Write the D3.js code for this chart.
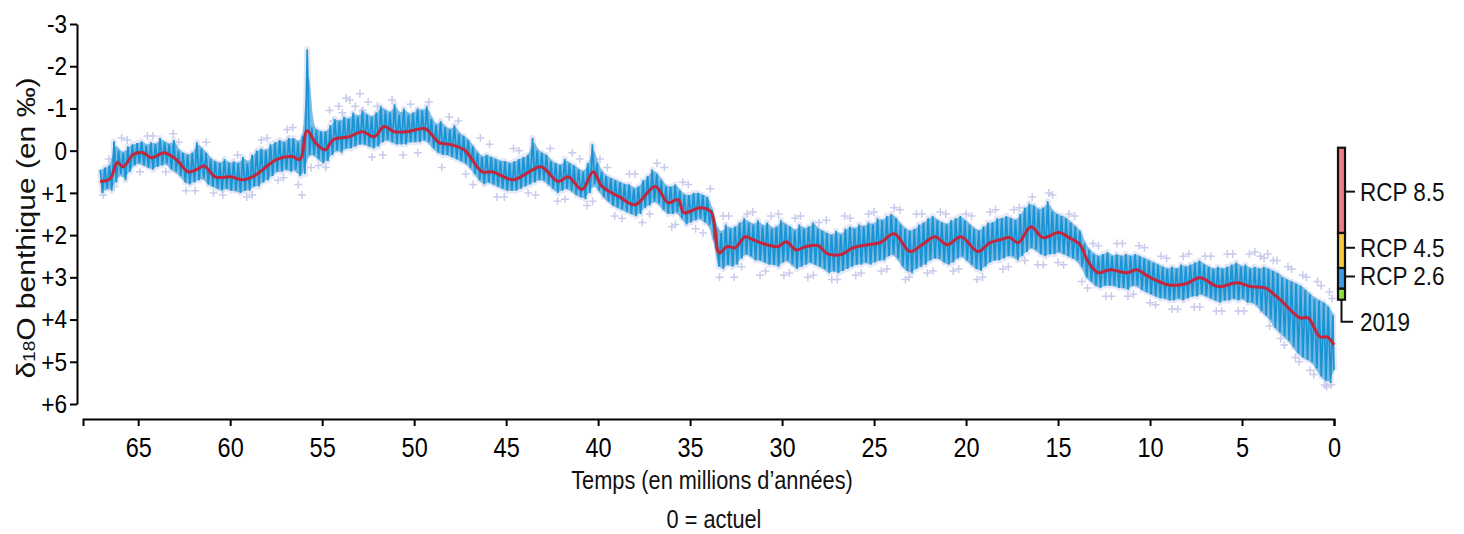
<!DOCTYPE html>
<html>
<head>
<meta charset="utf-8">
<script src="https://cdn.jsdelivr.net/npm/d3@7"></script>
<style>
  body { margin: 0; background: #fff; }
  text { font-family: "Liberation Sans", Arial, Helvetica, sans-serif; }
</style>
</head>
<body>
<div id="chart"></div>
<script>
// benthic d18O record, values in per mil, age in Myr (0 = today)
// blue trace: upper / lower excursion read every 0.25 Myr from 67 Myr down to 0
const blueStart = 67, blueStep = 0.25;
const blueHigh = [
  0.45, 0.4, 0.35, -0.22,   0.0, 0.05, -0.1, -0.15,   -0.18, -0.22, -0.12, -0.2,
  -0.15, -0.3, -0.2, -0.15,   -0.25, 0.0, 0.05, 0.1,   0.05, -0.2, -0.05, 0.05,
  0.2, 0.25, 0.3, 0.2,   0.3, 0.25, 0.3, 0.15,   0.3, 0.1, 0.0, -0.05,
  0.0, -0.15, -0.2, -0.25,   -0.2, -0.3, -0.3, -0.2,   -0.35, -2.4, -0.55, -0.5,
  -0.45, -0.45, -0.6, -0.75,   -0.7, -0.8, -0.75, -0.9,   -0.8, -0.95, -0.85, -0.8,
  -0.9, -1.05, -0.95, -0.9,   -1.1, -0.85, -1.0, -0.85,   -0.9, -1.0, -0.95, -1.05,
  -0.75, -0.6, -0.7, -0.55,   -0.5, -0.6, -0.4, -0.35,   -0.25, -0.1, 0.05, 0.15,
  0.1, 0.15, 0.2, 0.25,   0.25, 0.3, 0.25, 0.2,   0.15, 0.1, -0.3, 0.0,
  0.05, 0.1, 0.25, 0.3,   0.35, 0.2, 0.3, 0.35,   0.45, 0.5, 0.3, -0.15,
  0.3, 0.5, 0.6, 0.65,   0.7, 0.75, 0.8, 0.8,   0.9, 0.85, 0.7, 0.6,
  0.45, 0.55, 0.7, 0.85,   0.85, 0.8, 0.95, 1.05,   1.05, 1.0, 1.0, 1.05,
  1.1, 1.4, 1.85, 1.95,   1.75, 1.85, 1.8, 1.7,   1.6, 1.7, 1.75, 1.65,
  1.8, 1.7, 1.85, 1.8,   1.65, 1.75, 1.8, 1.9,   1.75, 1.85, 1.8, 1.7,
  1.85, 1.9, 1.95, 2.0,   1.9, 2.0, 1.85, 1.8,   1.85, 1.75, 1.8, 1.7,
  1.75, 1.6, 1.65, 1.55,   1.5, 1.6, 1.75, 1.85,   1.9, 1.85, 1.75, 1.7,
  1.6, 1.55, 1.65, 1.7,   1.75, 1.65, 1.6, 1.55,   1.65, 1.75, 1.85, 1.9,
  1.8, 1.7, 1.7, 1.6,   1.6, 1.55, 1.6, 1.65,   1.5, 1.35, 1.25, 1.3,
  1.4, 1.35, 1.2, 1.45,   1.5, 1.55, 1.6, 1.7,   1.8, 1.9, 2.2, 2.35,
  2.45, 2.5, 2.45, 2.4,   2.5, 2.45, 2.5, 2.45,   2.5, 2.45, 2.5, 2.55,
  2.6, 2.65, 2.7, 2.75,   2.8, 2.75, 2.8, 2.7,   2.75, 2.7, 2.65, 2.6,
  2.7, 2.75, 2.8, 2.75,   2.8, 2.75, 2.7, 2.65,   2.75, 2.7, 2.8, 2.75,
  2.8, 2.75, 2.8, 2.85,   2.9, 3.0, 3.05, 3.1,   3.15, 3.2, 3.3, 3.4,
  3.5, 3.55, 3.6, 3.7,   3.9
];
const blueLow = [
  1.0, 0.9, 0.95, 0.75,   0.55, 0.7, 0.5, 0.35,   0.3, 0.35, 0.4, 0.45,
  0.38, 0.35, 0.3, 0.45,   0.5, 0.6, 0.75, 0.8,   0.75, 0.7, 0.65, 0.8,
  0.85, 0.9, 0.95, 0.9,   0.95, 0.95, 1.0, 0.95,   0.95, 0.85, 0.85, 0.75,
  0.7, 0.6, 0.5, 0.5,   0.45, 0.5, 0.45, 0.6,   0.55, 0.1, 0.1, 0.2,
  0.3, 0.25, 0.1, 0.0,   0.05, -0.05, -0.05, -0.1,   -0.15, -0.15, -0.1, -0.05,
  -0.1, -0.2, -0.25, -0.2,   -0.15, -0.15, -0.15, -0.2,   -0.2, -0.2, -0.25, -0.2,
  -0.05, 0.05, 0.1, 0.1,   0.15, 0.2, 0.25, 0.3,   0.4, 0.55, 0.7, 0.8,
  0.75, 0.8, 0.85, 0.9,   0.95, 0.95, 0.95, 0.9,   0.85, 0.8, 0.75, 0.7,
  0.7, 0.8, 0.9, 1.0,   0.95, 0.9, 0.95, 1.05,   1.1, 1.15, 1.0, 0.8,
  0.95, 1.1, 1.2, 1.3,   1.35, 1.4, 1.45, 1.5,   1.55, 1.5, 1.35, 1.3,
  1.2, 1.25, 1.4, 1.5,   1.5, 1.45, 1.6, 1.75,   1.7, 1.65, 1.6, 1.7,
  1.75, 2.1, 2.75, 2.8,   2.7, 2.75, 2.7, 2.55,   2.45, 2.5, 2.6, 2.6,
  2.65, 2.7, 2.7, 2.75,   2.65, 2.6, 2.7, 2.8,   2.75, 2.7, 2.65, 2.7,
  2.75, 2.8, 2.9, 2.85,   2.9, 2.85, 2.8, 2.75,   2.7, 2.7, 2.65, 2.7,
  2.65, 2.6, 2.6, 2.5,   2.45, 2.55, 2.75, 2.85,   2.9, 2.8, 2.75, 2.7,
  2.6, 2.55, 2.55, 2.65,   2.7, 2.65, 2.55, 2.5,   2.6, 2.7, 2.8, 2.85,
  2.75, 2.65, 2.6, 2.6,   2.55, 2.5, 2.5, 2.6,   2.5, 2.4, 2.3, 2.35,
  2.45, 2.5, 2.45, 2.45,   2.4, 2.45, 2.5, 2.55,   2.6, 2.75, 3.0, 3.1,
  3.2, 3.25, 3.2, 3.2,   3.2, 3.25, 3.25, 3.3,   3.2, 3.2, 3.3, 3.35,
  3.4, 3.45, 3.5, 3.5,   3.55, 3.55, 3.5, 3.55,   3.5, 3.45, 3.45, 3.4,
  3.45, 3.5, 3.55, 3.6,   3.55, 3.55, 3.5, 3.55,   3.5, 3.6, 3.6, 3.65,
  3.8, 3.9, 4.0, 4.2,   4.3, 4.4, 4.5, 4.65,   4.8, 4.9, 4.95, 5.0,
  5.15, 5.35, 5.45, 5.5,   5.2
];

// red smoothed curve
const redAge = [67.07, 66.52, 66.14, 65.82, 65.27, 64.73, 64.29, 63.59, 62.93, 62.28,
  61.74, 61.41, 60.82, 59.95, 59.29, 58.59, 58.04, 57.5, 56.63, 56.2,
  55.82, 55.33, 54.84, 54.4, 53.53, 52.83, 52.17, 51.63, 51.09, 50.38,
  49.4, 48.64, 47.99, 47.28, 46.3, 45.76, 44.62, 43.75, 43.1, 42.17,
  41.63, 40.87, 40.27, 39.78, 38.86, 37.99, 36.9, 36.2, 35.65, 35.33,
  34.46, 33.86, 33.42, 32.99, 32.55, 32.01, 31.58, 30.82, 30.22, 29.78,
  29.24, 28.7, 28.04, 27.55, 26.79, 26.14, 25.38, 24.67, 23.91, 23.04,
  22.39, 21.68, 21.03, 20.27, 19.35, 18.7, 18.15, 17.61, 17.17, 16.47,
  15.82, 14.95, 14.4, 13.8, 13.4, 12.83, 12.17, 11.25, 10.71, 10.05,
  8.97, 8.04, 7.28, 6.3, 5.27, 4.51, 3.75, 2.93, 1.85, 1.41,
  0.76, 0.38, 0];
const redVal = [0.73, 0.66, 0.28, 0.38, 0.09, 0.05, 0.17, 0.05, 0.21, 0.5,
  0.43, 0.36, 0.62, 0.62, 0.69, 0.57, 0.38, 0.21, 0.14, 0.21,
  -0.47, -0.17, -0.02, -0.26, -0.33, -0.45, -0.33, -0.57, -0.45, -0.45,
  -0.52, -0.19, -0.14, -0.02, 0.5, 0.5, 0.69, 0.5, 0.38, 0.73,
  0.62, 0.92, 0.5, 0.85, 1.09, 1.28, 0.85, 1.23, 1.16, 1.47,
  1.35, 1.45, 2.42, 2.27, 2.3, 2.04, 2.11, 2.23, 2.27, 2.16,
  2.35, 2.27, 2.25, 2.44, 2.46, 2.3, 2.23, 2.18, 1.97, 2.39,
  2.23, 2.04, 2.23, 2.04, 2.39, 2.18, 2.11, 2.06, 2.18, 1.8,
  2.06, 1.94, 2.06, 2.23, 2.6, 2.89, 2.82, 2.89, 2.82, 2.99,
  3.18, 3.15, 3.01, 3.22, 3.13, 3.22, 3.25, 3.53, 3.96, 3.96,
  4.41, 4.41, 4.6];

// pale individual measurements (age, value)
const crossPoints = [
  [66.9,1.05],[66.6,0.2],[66.3,0.85],[65.9,-0.3],[65.6,-0.25],[64.9,0.5],[64.5,-0.35],[64.2,-0.35],
  [63.5,0.5],[63.1,-0.4],[62.8,-0.2],[62.4,0.95],[61.9,0.95],[61.3,-0.2],[60.9,1.0],[60.4,1.05],
  [59.6,0.1],[59.1,1.1],[58.8,1.05],[58.3,-0.25],[58.0,-0.3],[57.4,0.7],[57.1,0.64],[56.9,-0.5],
  [56.85,-0.26],[56.6,-0.55],[56.3,0.8],[56.2,0.52],[56.1,1.05],[55.6,0.4],[55.2,0.35],[54.8,0.4],
  [54.6,-0.95],[54.4,-0.7],[54.1,-1.05],[53.9,-0.9],[53.7,-1.25],[53.5,-1.2],[53.3,-0.7],[53.2,-1.05],
  [52.95,-1.35],[52.8,-0.95],[52.5,-1.15],[52.3,0.15],[52.0,-1.05],[51.7,0.1],[51.2,-1.2],[50.6,0.1],
  [50.2,-1.1],[49.8,0.05],[49.2,-1.15],[48.5,0.4],[48.1,-0.8],[47.6,-0.7],[47.2,0.55],[46.8,0.8],
  [46.4,-0.3],[45.9,-0.15],[45.5,1.1],[45.1,1.1],[44.6,-0.05],[44.3,0.0],[43.8,1.0],[43.4,1.05],
  [42.6,-0.05],[42.2,1.2],[41.8,1.15],[41.4,0.05],[41.0,0.2],[40.6,1.3],[40.3,1.2],[39.9,0.2],
  [39.5,0.4],[39.1,1.55],[38.7,1.6],[38.3,0.55],[38.0,0.55],[37.6,1.7],[37.2,1.5],[36.8,0.3],
  [36.4,0.4],[36.0,1.8],[35.8,1.75],[35.4,0.75],[35.1,0.8],[34.7,1.85],[34.3,1.95],[33.9,0.9],
  [33.4,3.0],[33.2,1.55],[32.9,1.55],[32.6,3.0],[32.2,2.75],[31.9,1.5],[31.6,1.45],[31.2,2.95],
  [30.9,2.85],[30.6,1.55],[30.2,1.5],[29.9,2.95],[29.6,2.9],[29.3,1.6],[29.0,1.55],[28.6,3.0],
  [28.3,2.95],[28.0,1.7],[27.6,1.65],[27.3,3.05],[27.0,3.05],[26.6,1.55],[26.3,1.6],[26.0,2.95],
  [25.7,2.9],[25.3,1.5],[25.0,1.45],[24.6,2.85],[24.3,2.8],[23.9,1.35],[23.6,1.4],[23.3,3.05],
  [23.1,3.0],[22.7,1.5],[22.4,1.5],[22.1,2.9],[21.8,2.85],[21.4,1.45],[21.1,1.5],[20.7,2.85],
  [20.4,2.8],[20.0,1.5],[19.7,1.55],[19.4,3.05],[19.1,3.0],[18.7,1.45],[18.4,1.4],[18.0,2.8],
  [17.7,2.75],[17.4,1.4],[17.1,1.35],[16.8,2.6],[16.4,1.1],[16.1,2.7],[15.8,2.7],[15.5,1.0],
  [15.3,1.05],[15.0,2.65],[14.7,2.7],[14.4,1.5],[14.1,1.55],[13.7,3.1],[13.4,3.25],[13.1,2.2],
  [12.8,2.25],[12.4,3.45],[12.1,3.45],[11.8,2.2],[11.5,2.2],[11.2,3.45],[10.9,3.4],[10.6,2.25],
  [10.3,2.3],[10.0,3.6],[9.7,3.65],[9.4,2.5],[9.1,2.55],[8.8,3.75],[8.5,3.75],[8.2,2.5],
  [7.9,2.45],[7.6,3.7],[7.3,3.7],[7.0,2.5],[6.7,2.5],[6.4,3.8],[6.1,3.8],[5.8,2.45],
  [5.5,2.45],[5.2,3.8],[4.9,3.8],[4.6,2.45],[4.3,2.4],[4.0,2.5],[3.8,2.55],[3.6,2.45],
  [3.5,4.15],[3.3,2.6],[3.1,2.6],[2.9,4.45],[2.7,4.6],[2.5,2.75],[2.3,2.8],[2.1,4.9],
  [1.9,5.0],[1.7,2.95],[1.5,3.0],[1.3,5.2],[1.1,5.3],[0.9,3.1],[0.7,3.2],[0.5,5.55],
  [0.4,5.6],[0.25,3.35],[0.15,5.55],[0.1,3.5]
];

const xTicks = [65, 60, 55, 50, 45, 40, 35, 30, 25, 20, 15, 10, 5, 0];
const yTicks = [-3, -2, -1, 0, 1, 2, 3, 4, 5, 6];

// scenario bar on the right
const rcpEdges = [-0.07, 1.95, 2.78, 3.27, 3.53];
const rcpColors = ["#f07c86", "#f7ca3c", "#3c9de6", "#8de440"];
const rcpLabels = ["RCP 8.5", "RCP 4.5", "RCP 2.6"];
const rcpLabelVals = [0.97, 2.3, 2.98];
const nowLabel = "2019", nowVal = 4.05;

const FONT = '"Liberation Sans", Arial, Helvetica, sans-serif';
const squeeze = "scale(0.87,1)";

const width = 1464, height = 534;
const svg = d3.select("#chart").append("svg")
    .attr("width", width)
    .attr("height", height);

const x = d3.scaleLinear().domain([68, 0]).range([83, 1334]);
const y = d3.scaleLinear().domain([-3, 6]).range([24, 404]);

// blue trace as a dense zigzag between the high and low readings
const bluePts = [];
blueHigh.forEach(function(h, i) {
    const age = blueStart - i * blueStep;
    bluePts.push([age + blueStep / 4, h]);
    bluePts.push([Math.max(0, age - blueStep / 4), blueLow[i]]);
});
const blueBand = blueHigh.map(function(h, i) { return [blueStart - i * blueStep, h, blueLow[i]]; });

const zig = d3.line()
    .x(function(d) { return x(d[0]); })
    .y(function(d) { return y(d[1]); });

svg.append("path")
    .attr("d", zig(bluePts))
    .attr("fill", "none")
    .attr("stroke", "#dcdef3")
    .attr("stroke-width", 6)
    .attr("stroke-linejoin", "round")
    .attr("opacity", 0.75);

svg.append("g").selectAll("path")
    .data(crossPoints)
    .enter()
    .append("path")
      .attr("transform", function(d) { return "translate(" + x(d[0]) + "," + y(d[1]) + ")"; })
      .attr("d", "M-4,0H4M0,-4V4")
      .attr("stroke", "#c9cbec")
      .attr("stroke-width", 1.5);

svg.append("path")
    .attr("d", d3.area()
        .x(function(d) { return x(d[0]); })
        .y0(function(d) { return y(d[2]); })
        .y1(function(d) { return y(d[1]); })
        .curve(d3.curveBasis)(blueBand))
    .attr("fill", "#1b95d5")
    .attr("opacity", 0.55);

svg.append("path")
    .attr("d", zig(bluePts))
    .attr("fill", "none")
    .attr("stroke", "#1893d4")
    .attr("stroke-width", 1.7);

const red = redAge.map(function(a, i) { return [a, redVal[i]]; });
svg.append("path")
    .attr("d", d3.line()
        .x(function(d) { return x(d[0]); })
        .y(function(d) { return y(d[1]); })
        .curve(d3.curveCatmullRom.alpha(0.5))(red))
    .attr("fill", "none")
    .attr("stroke", "#c4263b")
    .attr("stroke-width", 3)
    .attr("stroke-linejoin", "round");

// axes
const xAxis = svg.append("g")
    .attr("transform", "translate(0,419)")
    .call(d3.axisBottom(x).tickValues(xTicks).tickSize(7).tickSizeOuter(7).tickFormat(d3.format("d")));
xAxis.attr("font-family", FONT).attr("font-size", 27);
xAxis.select(".domain").attr("stroke", "#000").attr("stroke-width", 2);
xAxis.selectAll(".tick line").attr("stroke", "#000").attr("stroke-width", 2);
xAxis.selectAll(".tick text")
    .attr("fill", "#000")
    .attr("y", 0).attr("dy", null)
    .attr("transform", "translate(0,38) " + squeeze);

const yAxis = svg.append("g")
    .attr("transform", "translate(77,0)")
    .call(d3.axisLeft(y).tickValues(yTicks).tickSize(7).tickSizeOuter(0)
        .tickFormat(function(d) { return d > 0 ? "+" + d : String(d); }));
yAxis.attr("font-family", FONT).attr("font-size", 26);
yAxis.select(".domain").attr("stroke", "#000").attr("stroke-width", 2);
yAxis.selectAll(".tick line").attr("stroke", "#000").attr("stroke-width", 2);
yAxis.selectAll(".tick text")
    .attr("fill", "#000")
    .attr("x", 0)
    .attr("transform", "translate(-10,0) " + squeeze);

// axis titles
const yLabel = svg.append("text")
    .attr("transform", "translate(35,228) " + squeeze + " rotate(-90)")
    .attr("text-anchor", "middle")
    .attr("font-size", 30)
    .attr("fill", "#111");
yLabel.append("tspan").text("δ");
yLabel.append("tspan").attr("font-size", 19).text("18");
yLabel.append("tspan").text("O benthique (en ‰)");

svg.append("text")
    .attr("transform", "translate(712,489) " + squeeze)
    .attr("text-anchor", "middle")
    .attr("font-size", 25)
    .attr("fill", "#111")
    .text("Temps (en millions d’années)");
svg.append("text")
    .attr("transform", "translate(714,528) " + squeeze)
    .attr("text-anchor", "middle")
    .attr("font-size", 25)
    .attr("fill", "#111")
    .text("0 = actuel");

// RCP bar
const bar = svg.append("g");
rcpColors.forEach(function(c, i) {
    bar.append("rect")
        .attr("x", 1338)
        .attr("y", y(rcpEdges[i]))
        .attr("width", 7)
        .attr("height", y(rcpEdges[i + 1]) - y(rcpEdges[i]))
        .attr("fill", c)
        .attr("stroke", "#111")
        .attr("stroke-width", 2.2);
});
rcpLabels.forEach(function(t, i) {
    const yy = y(rcpLabelVals[i]);
    bar.append("line")
        .attr("x1", 1346).attr("x2", 1355)
        .attr("y1", yy).attr("y2", yy)
        .attr("stroke", "#111").attr("stroke-width", 2);
    bar.append("text")
        .attr("transform", "translate(1360," + yy + ") scale(0.9,1)")
        .attr("dy", "0.36em")
        .attr("font-size", 25)
        .attr("fill", "#111")
        .text(t);
});
bar.append("path")
    .attr("d", "M1341.5," + y(rcpEdges[4]) + "V" + y(nowVal) + "H1353")
    .attr("fill", "none")
    .attr("stroke", "#111")
    .attr("stroke-width", 2);
bar.append("text")
    .attr("transform", "translate(1360," + y(nowVal) + ") scale(0.9,1)")
    .attr("dy", "0.36em")
    .attr("font-size", 25)
    .attr("fill", "#111")
    .text(nowLabel);
</script>
</body>
</html>
